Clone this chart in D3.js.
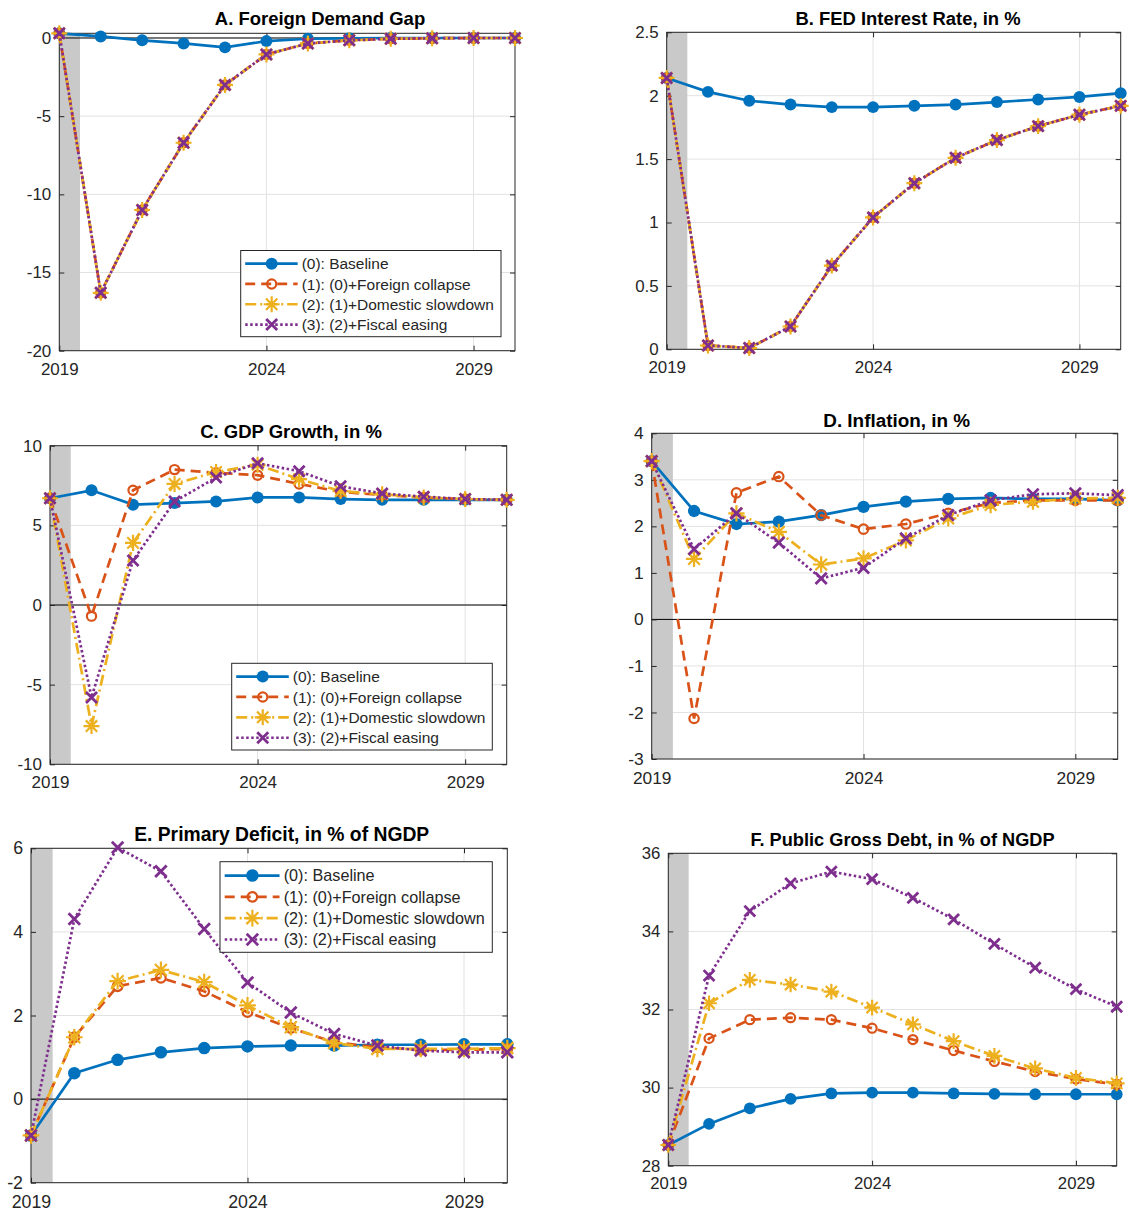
<!DOCTYPE html>
<head>
  <meta charset="utf-8">
  <script src="https://d3js.org/d3.v7.min.js"></script>
  <style>
    body { margin:0; background:#fff; font-family: "Liberation Sans", Arial, sans-serif; }
  </style>
</head>
<body>
<script>
var years = [2019, 2020, 2021, 2022, 2023, 2024, 2025, 2026, 2027, 2028, 2029, 2030];
var xTicks = [2019, 2024, 2029];
var shadeYears = [2019, 2019.5];
var seriesNames = ["(0): Baseline", "(1): (0)+Foreign collapse", "(2): (1)+Domestic slowdown", "(3): (2)+Fiscal easing"];

// A. foreign demand gap
var gapBase  = [0.3, 0.1, -0.15, -0.35, -0.6, -0.2, -0.05, -0.02, 0, 0, 0, 0];
var gapShock = [0.3, -16.3, -11.0, -6.7, -3.0, -1.05, -0.35, -0.15, -0.05, -0.02, 0, 0];
var gapTicks = [-20, -15, -10, -5, 0];

// B. fed rate
var fedBase  = [2.14, 2.03, 1.96, 1.93, 1.91, 1.91, 1.92, 1.93, 1.95, 1.97, 1.99, 2.02];
var fedShock = [2.14, 0.03, 0.01, 0.18, 0.66, 1.04, 1.31, 1.51, 1.65, 1.76, 1.85, 1.92];
var fedTicks = [0, 0.5, 1, 1.5, 2, 2.5];

// C. gdp growth
var gdpBase = [6.7, 7.2, 6.3, 6.4, 6.5, 6.75, 6.75, 6.65, 6.6, 6.6, 6.6, 6.6];
var gdpFor  = [6.7, -0.7, 7.2, 8.5, 8.3, 8.15, 7.6, 7.1, 6.9, 6.75, 6.65, 6.6];
var gdpDom  = [6.7, -7.6, 3.9, 7.6, 8.35, 8.8, 7.9, 7.15, 6.95, 6.75, 6.65, 6.6];
var gdpFis  = [6.7, -5.8, 2.8, 6.5, 8.0, 8.9, 8.4, 7.45, 7.0, 6.8, 6.65, 6.6];
var gdpTicks = [-10, -5, 0, 5, 10];

// D. inflation
var infBase = [3.4, 2.33, 2.05, 2.1, 2.24, 2.42, 2.53, 2.59, 2.61, 2.59, 2.59, 2.56];
var infFor  = [3.4, -2.13, 2.72, 3.07, 2.24, 1.94, 2.05, 2.28, 2.5, 2.56, 2.56, 2.56];
var infDom  = [3.4, 1.3, 2.28, 1.88, 1.18, 1.31, 1.7, 2.17, 2.46, 2.53, 2.6, 2.61];
var infFis  = [3.4, 1.51, 2.28, 1.65, 0.88, 1.11, 1.74, 2.24, 2.56, 2.69, 2.71, 2.67];
var infTicks = [-3, -2, -1, 0, 1, 2, 3, 4];

// E. primary deficit
var defBase = [-0.87, 0.62, 0.94, 1.12, 1.22, 1.26, 1.28, 1.28, 1.3, 1.3, 1.31, 1.31];
var defFor  = [-0.87, 1.48, 2.7, 2.9, 2.58, 2.08, 1.7, 1.36, 1.24, 1.18, 1.18, 1.2];
var defDom  = [-0.87, 1.48, 2.82, 3.09, 2.8, 2.24, 1.72, 1.34, 1.2, 1.2, 1.2, 1.22];
var defFis  = [-0.87, 4.31, 6.02, 5.45, 4.07, 2.79, 2.07, 1.56, 1.28, 1.16, 1.12, 1.12];
var defTicks = [-2, 0, 2, 4, 6];

// F. public debt
var debtBase = [28.53, 29.07, 29.47, 29.71, 29.85, 29.87, 29.87, 29.85, 29.84, 29.83, 29.83, 29.83];
var debtFor  = [28.53, 31.26, 31.74, 31.79, 31.74, 31.52, 31.23, 30.95, 30.67, 30.41, 30.22, 30.08];
var debtDom  = [28.53, 32.16, 32.76, 32.64, 32.46, 32.05, 31.62, 31.19, 30.81, 30.49, 30.25, 30.11];
var debtFis  = [28.53, 32.87, 34.52, 35.23, 35.53, 35.34, 34.86, 34.31, 33.68, 33.07, 32.52, 32.07];
var debtTicks = [28, 30, 32, 34, 36];

var colors = ["#0072BD", "#D95319", "#EDB120", "#7E2F8E"];
var dashes = [null, "10,6", "11,4,2,4", "2.5,2.5"];
var axisColor = "#262626";

// box = [left, top, right, bottom], legend = [left, top, right, bottom]
var panels = [
  { title: "A. Foreign Demand Gap", series: [gapBase, gapShock, gapShock, gapShock],
    yDomain: [-20, 0.3], yTicks: gapTicks, zero: true,
    box: [59.3, 33.3, 515, 350.7], titlePos: [320, 25], legend: [240.7, 250.5, 501, 336.7] },
  { title: "B. FED Interest Rate, in %", series: [fedBase, fedShock, fedShock, fedShock],
    yDomain: [0, 2.5], yTicks: fedTicks, zero: false,
    box: [666.7, 32.3, 1120.7, 349.3], titlePos: [908, 25], legend: null },
  { title: "C. GDP Growth, in %", series: [gdpBase, gdpFor, gdpDom, gdpFis],
    yDomain: [-10, 10], yTicks: gdpTicks, zero: true,
    box: [50, 445.7, 506.7, 764.3], titlePos: [291, 438.3], legend: [231.7, 663.3, 492.3, 750] },
  { title: "D. Inflation, in %", series: [infBase, infFor, infDom, infFis],
    yDomain: [-3, 4], yTicks: infTicks, zero: true,
    box: [651.7, 433.3, 1117.7, 759], titlePos: [896.7, 426.7], legend: null },
  { title: "E. Primary Deficit, in % of NGDP", series: [defBase, defFor, defDom, defFis],
    yDomain: [-2, 6], yTicks: defTicks, zero: true,
    box: [31, 848.3, 507.3, 1182.7], titlePos: [281.7, 841], legend: [220, 861.7, 492.3, 952.3] },
  { title: "F. Public Gross Debt, in % of NGDP", series: [debtBase, debtFor, debtDom, debtFis],
    yDomain: [28, 36], yTicks: debtTicks, zero: false,
    box: [668.3, 853.3, 1116.7, 1165.7], titlePos: [902.5, 845.7], legend: null }
];

var svg = d3.select("body").append("svg")
  .attr("width", 1129)
  .attr("height", 1217);

function drawMarker(sel, k, s) {
  if (k === 0) {
    sel.append("circle").attr("r", 6 * s).attr("fill", colors[0]);
  } else if (k === 1) {
    sel.append("circle").attr("r", 4.6 * s).attr("fill", "none")
      .attr("stroke", colors[1]).attr("stroke-width", 2.2);
  } else if (k === 2) {
    var a = 8 * s, b = 5.7 * s;
    sel.append("path")
      .attr("d", "M" + -a + ",0H" + a + "M0," + -a + "V" + a +
        "M" + -b + "," + -b + "L" + b + "," + b + "M" + -b + "," + b + "L" + b + "," + -b)
      .attr("stroke", colors[2]).attr("stroke-width", 2.2).attr("fill", "none");
  } else {
    var c = 5.5 * s;
    sel.append("path")
      .attr("d", "M" + -c + "," + -c + "L" + c + "," + c + "M" + -c + "," + c + "L" + c + "," + -c)
      .attr("stroke", colors[3]).attr("stroke-width", 2.8).attr("fill", "none");
  }
}

panels.forEach(function(p) {
  var L = p.box[0], T = p.box[1], R = p.box[2], B = p.box[3];
  var s = (R - L) / 456;

  var x = d3.scaleLinear().domain([2019, 2030]).range([L, R]);
  var y = d3.scaleLinear().domain(p.yDomain).range([B, T]);

  var g = svg.append("g");

  // grid
  g.selectAll(null).data(p.yTicks).enter().append("line")
    .attr("x1", L).attr("x2", R)
    .attr("y1", function(d) { return y(d); }).attr("y2", function(d) { return y(d); })
    .attr("stroke", "#e2e2e2").attr("stroke-width", 1);
  g.selectAll(null).data(xTicks).enter().append("line")
    .attr("x1", function(d) { return x(d); }).attr("x2", function(d) { return x(d); })
    .attr("y1", T).attr("y2", B)
    .attr("stroke", "#e2e2e2").attr("stroke-width", 1);

  // shaded history
  g.append("rect")
    .attr("x", x(shadeYears[0])).attr("y", T)
    .attr("width", x(shadeYears[1]) - x(shadeYears[0]))
    .attr("height", B - T)
    .attr("fill", "#c9c9c9");

  if (p.zero) {
    g.append("line")
      .attr("x1", L).attr("x2", R).attr("y1", y(0)).attr("y2", y(0))
      .attr("stroke", "#000").attr("stroke-width", 1);
  }

  // axes
  var fs = 17 * s;
  var yax = g.append("g").attr("transform", "translate(" + L + ",0)")
    .call(d3.axisLeft(y).tickValues(p.yTicks).tickFormat(function(d) { return String(d); })
      .tickSizeInner(-5).tickSizeOuter(0).tickPadding(8));
  g.append("g").attr("transform", "translate(" + R + ",0)")
    .call(d3.axisRight(y).tickValues(p.yTicks).tickFormat("")
      .tickSizeInner(-5).tickSizeOuter(0));
  var xax = g.append("g").attr("transform", "translate(0," + B + ")")
    .call(d3.axisBottom(x).tickValues(xTicks).tickFormat(d3.format("d"))
      .tickSizeInner(-5).tickSizeOuter(0).tickPadding(12 * s));
  g.append("g").attr("transform", "translate(0," + T + ")")
    .call(d3.axisTop(x).tickValues(xTicks).tickFormat("")
      .tickSizeInner(-5).tickSizeOuter(0));

  g.selectAll(".domain").remove();
  g.selectAll(".tick line").attr("stroke", axisColor);
  [yax, xax].forEach(function(a) {
    a.selectAll("text")
      .attr("fill", axisColor)
      .style("font-size", fs + "px")
      .style("font-family", '"Liberation Sans", Arial, sans-serif');
  });

  g.append("rect")
    .attr("x", L).attr("y", T).attr("width", R - L).attr("height", B - T)
    .attr("fill", "none").attr("stroke", axisColor).attr("stroke-width", 1);

  // series
  var line = d3.line()
    .x(function(d, i) { return x(years[i]); })
    .y(function(d) { return y(d); });

  p.series.forEach(function(vals, k) {
    g.append("path")
      .datum(vals)
      .attr("d", line)
      .attr("fill", "none")
      .attr("stroke", colors[k])
      .attr("stroke-width", 2.7)
      .attr("stroke-dasharray", dashes[k]);
    g.selectAll(null).data(vals).enter().append("g")
      .attr("transform", function(d, i) { return "translate(" + x(years[i]) + "," + y(d) + ")"; })
      .each(function() { drawMarker(d3.select(this), k, s); });
  });

  // title
  g.append("text")
    .text(p.title)
    .attr("x", p.titlePos[0]).attr("y", p.titlePos[1])
    .attr("text-anchor", "middle")
    .style("font-size", (18.5 * s) + "px")
    .style("font-weight", "bold")
    .attr("fill", "#000");

  // legend
  if (p.legend) {
    var lg = p.legend;
    var lh = lg[3] - lg[1];
    var step = lh / 4.25;
    g.append("rect")
      .attr("x", lg[0]).attr("y", lg[1])
      .attr("width", lg[2] - lg[0]).attr("height", lh)
      .attr("fill", "#fff").attr("stroke", axisColor).attr("stroke-width", 1);
    seriesNames.forEach(function(name, k) {
      var cy = lg[1] + step * (0.65 + k);
      g.append("line")
        .attr("x1", lg[0] + 4.5 * s).attr("x2", lg[0] + 57 * s)
        .attr("y1", cy).attr("y2", cy)
        .attr("stroke", colors[k]).attr("stroke-width", 2.7)
        .attr("stroke-dasharray", dashes[k]);
      var mk = g.append("g").attr("transform", "translate(" + (lg[0] + 31 * s) + "," + cy + ")");
      drawMarker(mk, k, s);
      g.append("text")
        .text(name)
        .attr("x", lg[0] + 61 * s).attr("y", cy)
        .attr("dy", "0.36em")
        .attr("fill", axisColor)
        .style("font-size", (15.5 * s) + "px");
    });
  }
});
</script>
</body>
